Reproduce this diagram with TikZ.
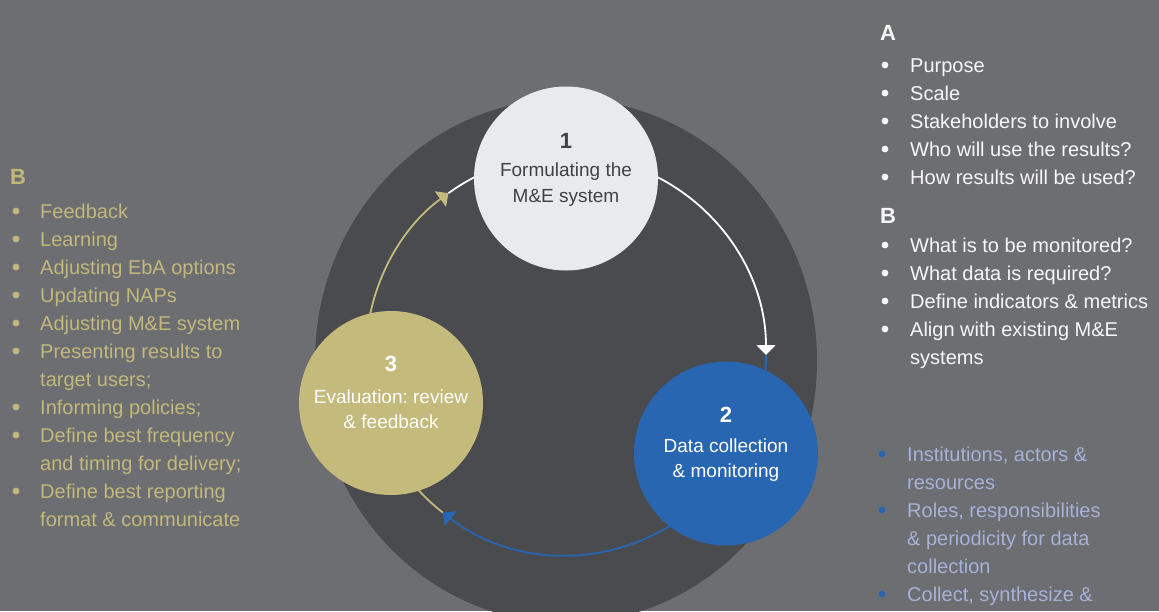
\documentclass[tikz,border=0pt]{standalone}
\usepackage{fontspec}
\setmainfont{Liberation Sans}
\usetikzlibrary{arrows.meta}
\frenchspacing
\definecolor{bg}{HTML}{6D6E72}
\definecolor{darkc}{HTML}{4A4B4E}
\definecolor{cone}{HTML}{E9EAEC}
\definecolor{conetext}{HTML}{414244}
\definecolor{bluec}{HTML}{2866B1}
\definecolor{goldc}{HTML}{C4BA7B}
\definecolor{goldtext}{HTML}{C2B87A}
\definecolor{whitetext}{HTML}{F7F7F7}
\definecolor{lavtext}{HTML}{A7B1D8}
\tikzset{
  stage/.style={circle, inner sep=0pt, minimum size=184pt},
  numtxt/.style={anchor=base, inner sep=0pt, font=\fontsize{22}{26}\selectfont\bfseries},
  stagetxt/.style={anchor=base, inner sep=0pt, font=\fontsize{19}{24}\selectfont},
  listtxt/.style={anchor=base west, inner sep=0pt, font=\fontsize{20}{24}\selectfont},
  headtxt/.style={anchor=base west, inner sep=0pt, font=\fontsize{22}{26}\selectfont\bfseries},
  cyc/.style={line width=1.8pt},
  tipped/.style={-{Triangle[length=10pt,width=19pt]}},
  dotw/.style={fill=whitetext},
  dotg/.style={fill=goldtext},
  dotb/.style={fill=bluec}
}
\begin{document}
\frenchspacing
\begin{tikzpicture}[x=1pt,y=-1pt]
\fill[bg] (0,0) rectangle (1159,611);
\useasboundingbox (0,0) rectangle (1159,611);
\begin{scope}
\clip (0,0) rectangle (1159,611);
\fill[darkc] (566,361) ellipse[x radius=251, y radius=262];
\end{scope}
\coordinate (ctr) at (566,355);
% cycle arcs
\draw[cyc, white, tipped] (ctr) ++(-70:200) arc[start angle=-70, end angle=0, radius=200];
\draw[cyc, bluec] (ctr) ++(0:200) arc[start angle=0, end angle=15, radius=200];
\draw[cyc, bluec, tipped] (ctr) ++(50:200) arc[start angle=50, end angle=128, radius=200];
\draw[cyc, goldc] (ctr) ++(128:200) arc[start angle=128, end angle=145, radius=200];
\draw[cyc, goldc, tipped] (ctr) ++(188:200) arc[start angle=188, end angle=234, radius=200];
\draw[cyc, white] (ctr) ++(234:200) arc[start angle=234, end angle=250, radius=200];
% stage circles
\node[stage, fill=cone] (s1) at (566,178.5) {};
\node[stage, fill=bluec] (s2) at (726,453.5) {};
\node[stage, fill=goldc] (s3) at (391,403) {};
\node[numtxt, text=conetext] (s1n) at (566,148) {1};
\node[stagetxt, text=conetext] (s1a) at (566,176) {Formulating the};
\node[stagetxt, text=conetext] (s1b) at (566,202) {M\&E system};
\node[numtxt, text=white] (s2n) at (726,422) {2};
\node[stagetxt, text=white] (s2a) at (726,452) {Data collection};
\node[stagetxt, text=white] (s2b) at (726,477) {\& monitoring};
\node[numtxt, text=white] (s3n) at (391,371) {3};
\node[stagetxt, text=white] (s3a) at (391,403) {Evaluation:\ review};
\node[stagetxt, text=white] (s3b) at (391,428) {\& feedback};
% right list A/B
\node[headtxt, text=whitetext] (ha) at (880,40) {A};
\foreach \y/\t [count=\i] in {72/Purpose, 100/Scale, 128/Stakeholders to involve, 156/Who will use the results?, 184/How results will be used?}{
  \fill[dotw] (885,\y-7) circle[radius=3.4];
  \node[listtxt, text=whitetext] (ra\i) at (910,\y) {\t};
}
\node[headtxt, text=whitetext] (hb) at (880,223) {B};
\foreach \y/\t [count=\i] in {252/What is to be monitored?, 280/What data is required?, 308/Define indicators \& metrics, 336/Align with existing M\&E}{
  \fill[dotw] (885,\y-7) circle[radius=3.4];
  \node[listtxt, text=whitetext] (rb\i) at (910,\y) {\t};
}
\node[listtxt, text=whitetext] (rb5) at (910,364) {systems};
% left list
\node[headtxt, text=goldtext] (hl) at (10,184) {B};
\foreach \y/\t [count=\i] in {218/Feedback, 246/Learning, 274/Adjusting EbA options, 302/Updating NAPs, 330/Adjusting M\&E system, 358/Presenting results to, 414/Informing policies;, 442/Define best frequency, 498/Define best reporting}{
  \fill[dotg] (16,\y-7) circle[radius=3.4];
  \node[listtxt, text=goldtext] (l\i) at (40,\y) {\t};
}
\node[listtxt, text=goldtext] (lx1) at (40,386) {target users;};
\node[listtxt, text=goldtext] (lx2) at (40,470) {and timing for delivery;};
\node[listtxt, text=goldtext] (lx3) at (40,526) {format \& communicate};
% bottom right list
\foreach \y/\t [count=\i] in {461/{Institutions, actors \&}, 517/{Roles, responsibilities}, 601/{Collect, synthesize \&}}{
  \fill[dotb] (882,\y-7) circle[radius=3.4];
  \node[listtxt, text=lavtext] (c\i) at (907,\y) {\t};
}
\node[listtxt, text=lavtext] (cx1) at (907,489) {resources};
\node[listtxt, text=lavtext] (cx2) at (907,545) {\& periodicity for data};
\node[listtxt, text=lavtext] (cx3) at (907,573) {collection};
\end{tikzpicture}
\end{document}
